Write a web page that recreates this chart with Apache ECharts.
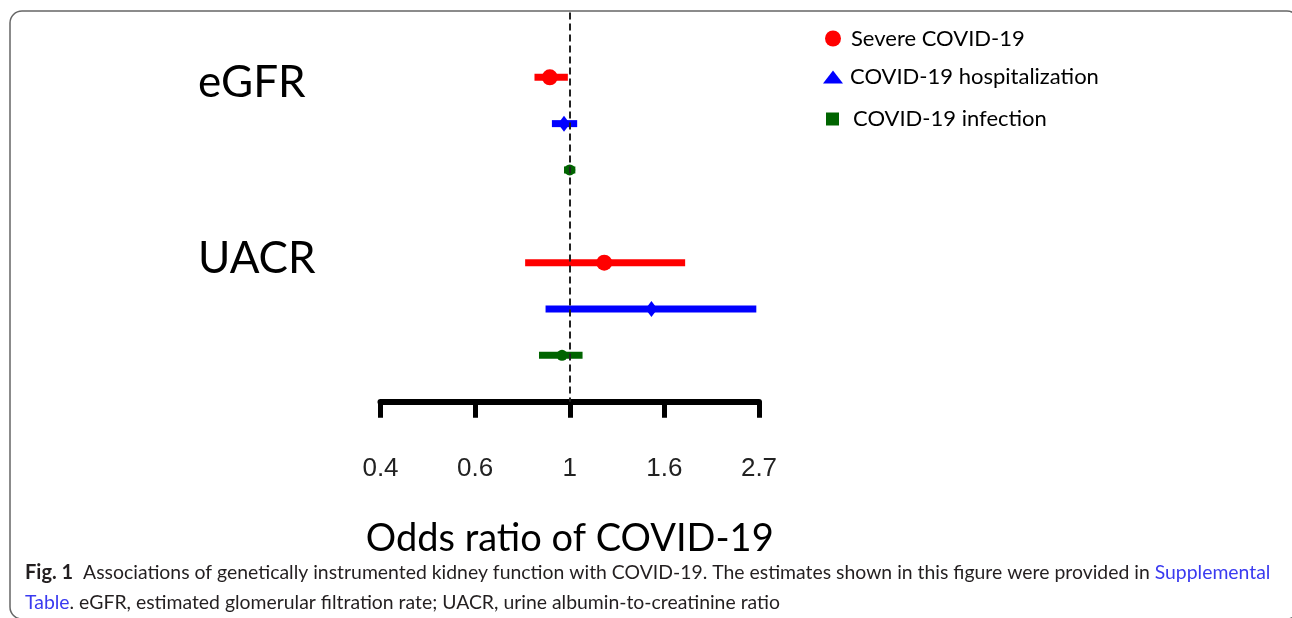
<!DOCTYPE html>
<html>
<head>
<meta charset="utf-8">
<script src="https://cdn.jsdelivr.net/npm/echarts@6/dist/echarts.min.js"></script>
<style>
html,body{margin:0;padding:0;background:#fff;}
#chart{width:1292px;height:618px;}
</style>
</head>
<body>
<div id="chart"></div>
<script>
// ---- data (odds ratios with 95% CI) ----
const groups = ['eGFR', 'UACR'];
const outcomes = ['Severe COVID-19', 'COVID-19 hospitalization', 'COVID-19 infection'];
const orSevere = [0.90, 1.20];
const loSevere = [0.83, 0.79];
const hiSevere = [0.99, 1.84];
const orHosp = [0.97, 1.54];
const loHosp = [0.91, 0.88];
const hiHosp = [1.04, 2.68];
const orInf = [1.00, 0.96];
const loInf = [0.97, 0.85];
const hiInf = [1.03, 1.07];
const tickLabels = ['0.4', '0.6', '1', '1.6', '2.7'];
const axisTitle = 'Odds ratio of COVID-19';
const captionLine1 = 'Associations of genetically instrumented kidney function with COVID-19. The estimates shown in this figure were provided in ';
const captionLine2 = '. eGFR, estimated glomerular filtration rate; UACR, urine albumin-to-creatinine ratio';

// ---- build ----
const colors = ['#ff0000', '#0000ff', '#006400'];
const pointSymbols = ['circle', 'diamond', 'circle'];
const pointSizes = [16, [12, 16], 11];
const legendIcons = ['circle', 'triangle', 'rect'];
const ors = [orSevere, orHosp, orInf];
const los = [loSevere, loHosp, loInf];
const his = [hiSevere, hiHosp, hiInf];

const series = [];
outcomes.forEach((name, k) => {
  const ciData = groups.map((g, gi) => [Math.log(los[k][gi]), Math.log(his[k][gi]), gi * 4 + k + 1]);
  const ptData = groups.map((g, gi) => [Math.log(ors[k][gi]), gi * 4 + k + 1]);
  series.push({
    name: name,
    type: 'custom',
    color: colors[k],
    encode: { x: [0, 1], y: 2 },
    data: ciData,
    renderItem: function (params, api) {
      const p1 = api.coord([api.value(0), api.value(2)]);
      const p2 = api.coord([api.value(1), api.value(2)]);
      return {
        type: 'line',
        shape: { x1: p1[0], y1: p1[1], x2: p2[0], y2: p2[1] },
        style: { stroke: colors[k], lineWidth: 7, lineCap: 'butt' }
      };
    },
    z: 2
  });
  const sc = {
    name: name,
    type: 'scatter',
    color: colors[k],
    symbol: pointSymbols[k],
    symbolSize: pointSizes[k],
    itemStyle: { color: colors[k], opacity: 1 },
    data: ptData,
    z: 3
  };
  if (k === 0) {
    sc.markLine = {
      silent: true,
      symbol: 'none',
      label: { show: false },
      lineStyle: { type: [7, 4], color: '#222', width: 2 },
      data: [{ xAxis: 0 }],
      z: 4
    };
  }
  series.push(sc);
});

const legendLeft = [825, 823, 826];
const legendTop = [26.5, 65, 107];
const legendW = [16, 20, 13];
const legendH = [16, 13, 13];
const legendGap = [5, 2, 9];
const legends = outcomes.map((name, k) => ({
  data: [{ name: name, icon: legendIcons[k] }],
  left: legendLeft[k],
  top: legendTop[k],
  orient: 'vertical',
  padding: 0,
  itemWidth: legendW[k],
  itemHeight: legendH[k],
  selectedMode: false,
  formatter: '{g|}{t|{name}}',
  textStyle: {
    fontFamily: 'Lato', fontSize: 22, color: '#000', lineHeight: 24,
    rich: {
      g: { width: legendGap[k], height: 24 },
      t: { fontFamily: 'Lato', fontSize: 22, color: '#000', lineHeight: 24 }
    }
  }
}));

const chart = echarts.init(document.getElementById('chart'), null, { renderer: 'canvas' });
chart.setOption({
  animation: false,
  backgroundColor: '#ffffff',
  grid: { left: 380.5, right: 533, top: 12.4, bottom: 216.3 },
  xAxis: {
    type: 'value', min: -1, max: 1, interval: 0.5,
    splitLine: { show: false },
    axisLine: { onZero: false, lineStyle: { color: '#000', width: 6 } },
    axisTick: { length: 16, lineStyle: { color: '#000', width: 5 } },
    axisLabel: {
      margin: 54, fontFamily: 'Liberation Sans', fontSize: 26, color: '#222',
      formatter: function (v) { return tickLabels[Math.round((v + 1) / 0.5)]; }
    },
    name: axisTitle, nameLocation: 'middle', nameGap: 117,
    nameTextStyle: { fontFamily: 'Lato', fontSize: 38, color: '#000', lineHeight: 40 }
  },
  yAxis: { type: 'value', inverse: true, min: -0.4, max: 8, show: false },
  legend: legends,
  series: series,
  graphic: [
    {
      type: 'rect', silent: true,
      shape: { x: 10, y: 11, width: 1289, height: 608, r: 12 },
      style: { fill: 'none', stroke: '#666', lineWidth: 1.5 }
    },
    {
      type: 'text', x: 198, y: 83,
      style: { text: groups[0], fontFamily: 'Lato', fontSize: 44, fill: '#000', verticalAlign: 'middle' }
    },
    {
      type: 'text', x: 198, y: 259,
      style: { text: groups[1], fontFamily: 'Lato', fontSize: 44, fill: '#000', verticalAlign: 'middle' }
    },
    {
      type: 'text', x: 25, y: 558,
      style: {
        text: '{b|Fig. 1}  ' + captionLine1 + '{l|Supplemental}\n{l|Table}' + captionLine2,
        fontFamily: 'Lato', fontSize: 19.4, fill: '#231f20', lineHeight: 30,
        rich: {
          b: { fontWeight: 'bold', fontFamily: 'Lato', fontSize: 20, fill: '#231f20', lineHeight: 30 },
          l: { fontFamily: 'Lato', fontSize: 19.4, fill: '#3a3af0', lineHeight: 30 }
        }
      }
    }
  ]
});
</script>
</body>
</html>
